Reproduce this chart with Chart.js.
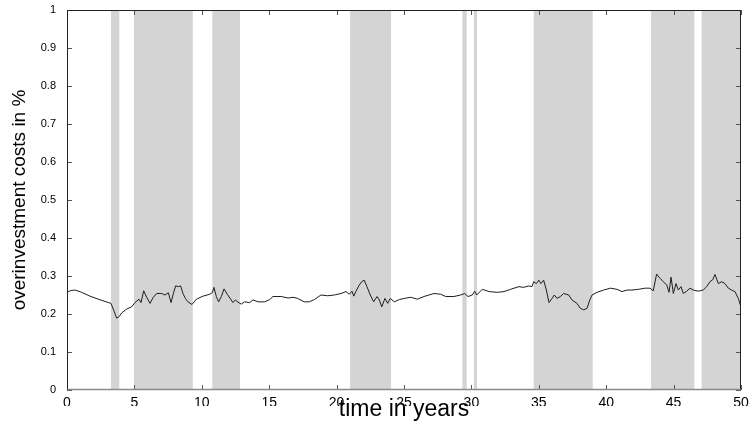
<!DOCTYPE html>
<html>
<head>
<meta charset="utf-8">
<script src="https://cdn.jsdelivr.net/npm/chart.js@4/dist/chart.umd.min.js"></script>
<style>
  html, body { margin: 0; padding: 0; background: #fff; }
  #c { display: block; }
</style>
</head>
<body>
<canvas id="c" width="749" height="434"></canvas>
<script>
// ---- data ----
const years = [0.0,0.3,0.6,1.09,1.7,2.32,2.82,3.26,3.51,3.68,3.86,4.06,4.43,4.8,5.04,5.34,5.49,5.69,5.91,6.16,6.4,6.65,7.02,7.27,7.52,7.72,7.89,8.06,8.26,8.43,8.6,8.78,8.98,9.27,9.6,10.09,10.59,10.78,10.9,11.08,11.25,11.45,11.65,11.89,12.14,12.31,12.49,12.69,12.93,13.18,13.55,13.8,14.17,14.67,15.04,15.28,15.9,16.4,16.77,17.11,17.6,17.97,18.35,18.84,19.34,19.83,20.33,20.7,20.94,21.14,21.27,21.44,21.68,21.86,22.05,22.25,22.5,22.75,23.0,23.17,23.35,23.59,23.79,23.98,24.28,24.65,25.02,25.5,25.99,26.48,27.23,27.72,28.09,28.7,29.2,29.5,29.75,30.07,30.24,30.39,30.81,31.31,31.92,32.42,32.91,33.53,33.88,34.25,34.5,34.62,34.82,35.0,35.16,35.36,35.56,35.76,35.98,36.15,36.35,36.6,36.85,37.22,37.46,37.83,38.08,38.33,38.58,38.78,38.95,39.32,39.81,40.31,40.8,41.17,41.54,41.91,42.4,42.9,43.25,43.49,43.74,43.99,44.24,44.49,44.66,44.81,44.98,45.18,45.35,45.55,45.72,45.97,46.22,46.46,46.83,47.2,47.45,47.7,47.9,48.07,48.32,48.57,48.81,49.06,49.31,49.55,49.8,50.0];
const costs = [0.257,0.262,0.263,0.257,0.247,0.239,0.233,0.228,0.206,0.189,0.193,0.203,0.213,0.219,0.23,0.239,0.23,0.261,0.244,0.228,0.244,0.254,0.254,0.25,0.256,0.23,0.254,0.274,0.272,0.274,0.254,0.241,0.232,0.225,0.239,0.247,0.252,0.256,0.27,0.246,0.232,0.246,0.266,0.252,0.239,0.23,0.237,0.231,0.226,0.232,0.23,0.237,0.232,0.232,0.238,0.246,0.246,0.242,0.244,0.241,0.232,0.232,0.238,0.25,0.248,0.25,0.254,0.259,0.252,0.26,0.247,0.26,0.276,0.285,0.289,0.272,0.25,0.232,0.246,0.237,0.219,0.241,0.228,0.241,0.232,0.238,0.241,0.244,0.239,0.246,0.254,0.252,0.246,0.246,0.25,0.254,0.246,0.25,0.26,0.25,0.265,0.259,0.257,0.259,0.265,0.272,0.27,0.274,0.272,0.285,0.28,0.289,0.28,0.289,0.263,0.23,0.241,0.25,0.241,0.246,0.254,0.25,0.237,0.228,0.215,0.211,0.215,0.237,0.25,0.257,0.263,0.268,0.265,0.259,0.263,0.263,0.265,0.268,0.268,0.261,0.305,0.294,0.285,0.276,0.257,0.297,0.254,0.28,0.263,0.272,0.254,0.26,0.268,0.263,0.26,0.263,0.272,0.285,0.29,0.304,0.28,0.285,0.28,0.268,0.263,0.259,0.241,0.218];
const bandStarts = [3.26, 4.97, 10.78, 21.0, 29.33, 30.19, 34.62, 43.32, 47.08];
const bandEnds   = [3.88, 9.33, 12.83, 24.04, 29.65, 30.42, 39.0, 46.54, 50.0];
const xTitle = 'time in years';
const yTitle = 'overinvestment costs in %';

const points = years.map((x, i) => ({ x: x, y: costs[i] }));

const bandsPlugin = {
  id: 'bands',
  beforeDatasetsDraw(chart) {
    const { ctx, chartArea: a, scales: { x } } = chart;
    ctx.save();
    ctx.fillStyle = '#d4d4d4';
    for (let i = 0; i < bandStarts.length; i++) {
      const x0 = x.getPixelForValue(bandStarts[i]);
      const x1 = x.getPixelForValue(bandEnds[i]);
      ctx.fillRect(x0, a.top, x1 - x0, a.bottom - a.top);
    }
    ctx.restore();
  }
};

const framePlugin = {
  id: 'frame',
  afterDatasetsDraw(chart) {
    const { ctx, chartArea: a, scales: { x, y } } = chart;
    ctx.save();
    ctx.lineWidth = 1;
    ctx.strokeStyle = '#555';
    const L = 5;
    ctx.beginPath();
    x.ticks.forEach(t => {
      const px = Math.round(x.getPixelForValue(t.value)) + 0.5;
      ctx.moveTo(px, a.bottom); ctx.lineTo(px, a.bottom - L);
      ctx.moveTo(px, a.top); ctx.lineTo(px, a.top + L);
    });
    y.ticks.forEach(t => {
      const py = Math.round(y.getPixelForValue(t.value)) + 0.5;
      ctx.moveTo(a.left, py); ctx.lineTo(a.left + L, py);
      ctx.moveTo(a.right, py); ctx.lineTo(a.right - L, py);
    });
    ctx.stroke();
    const l = Math.round(a.left) + 0.5, r = Math.round(a.right) - 0.5;
    const t = Math.round(a.top) + 0.5, b = Math.round(a.bottom) - 0.5;
    ctx.strokeStyle = '#222';
    ctx.beginPath();
    ctx.moveTo(l, b); ctx.lineTo(l, t); ctx.lineTo(r, t); ctx.lineTo(r, b);
    ctx.stroke();
    ctx.strokeStyle = '#8a8a8a';
    ctx.lineWidth = 1.5;
    ctx.beginPath();
    ctx.moveTo(l, b); ctx.lineTo(r, b);
    ctx.stroke();
    ctx.restore();
  }
};

// the reference's x tick labels have their lower part cut off
const clipLabelsPlugin = {
  id: 'clipLabels',
  afterLayout(chart) {
    const s = chart.scales.x;
    if (s && !s._clipPatched) {
      const orig = s.drawLabels.bind(s);
      s.drawLabels = function (area) {
        const ctx = this.ctx;
        ctx.save();
        ctx.beginPath();
        ctx.rect(0, 0, chart.width, chart.chartArea.bottom + 16);
        ctx.clip();
        orig(area);
        ctx.restore();
      };
      s._clipPatched = true;
    }
  }
};

new Chart(document.getElementById('c'), {
  type: 'line',
  data: {
    datasets: [{
      data: points,
      borderColor: '#1e1e1e',
      borderWidth: 1,
      pointRadius: 0,
      tension: 0,
      fill: false
    }]
  },
  options: {
    responsive: false,
    animation: false,
    devicePixelRatio: 1,
    layout: { padding: { top: 10, right: 8, left: 0, bottom: 0 } },
    plugins: { legend: { display: false }, tooltip: { enabled: false } },
    scales: {
      x: {
        type: 'linear',
        min: 0, max: 50,
        grid: { display: false, drawTicks: false },
        border: { display: false },
        ticks: { stepSize: 5, padding: 5, color: '#000', maxRotation: 0,
                 font: { family: 'Liberation Sans, Arial, sans-serif', size: 14 } },
        title: { display: true, text: xTitle, color: '#000',
                 font: { family: 'Liberation Sans, Arial, sans-serif', size: 23 },
                 padding: { top: 0, bottom: 11 } },
        afterFit(s) { s.height = 44; s.paddingLeft = 0; s.paddingRight = 0; }
      },
      y: {
        min: 0, max: 1,
        grid: { display: false, drawTicks: false },
        border: { display: false },
        ticks: { stepSize: 0.1, padding: 11, color: '#000',
                 callback: v => String(+v.toFixed(1)),
                 font: { family: 'Liberation Sans, Arial, sans-serif', size: 11 } },
        title: { display: true, text: yTitle, color: '#000',
                 font: { family: 'Liberation Sans, Arial, sans-serif', size: 19 },
                 padding: { top: 8, bottom: 0 } },
        afterFit(s) { s.width = 67; s.paddingTop = 0; s.paddingBottom = 0; }
      }
    }
  },
  plugins: [bandsPlugin, framePlugin, clipLabelsPlugin]
});
</script>
</body>
</html>
